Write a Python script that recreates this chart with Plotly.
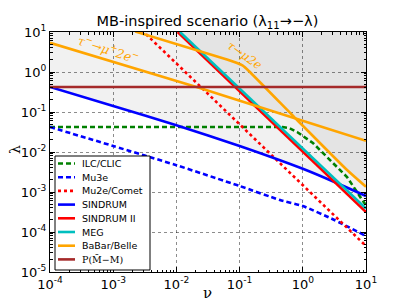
import numpy as np
import plotly.graph_objects as go

# ---------------- data (log10 values) ----------------
ilc_lognu = [-4.0, -0.32, -0.22, -0.09, 0.16, 0.43, 0.70, 0.94, 1.0]
ilc_loglam = [-1.375, -1.375, -1.40, -1.50, -1.775, -2.20, -2.625, -3.20, -3.33]

mu3e_lognu = [-4.0, -3.0, -2.0, -1.0, -0.36, 0.0, 0.5, 1.0]
mu3e_loglam = [-1.375, -1.85, -2.33, -2.85, -3.20, -3.35, -3.70, -4.10]

mu2e_lognu = [-2.55, 1.0]
mu2e_loglam = [1.05, -4.35]

sindrum_lognu = [-4.0, -3.0, -2.0, -1.0, 0.0, 0.5, 1.0]
sindrum_loglam = [-0.375, -0.85, -1.33, -1.85, -2.42, -2.75, -3.10]

sindrum2_lognu = [-1.98, 1.0]
sindrum2_loglam = [1.0, -3.50]

meg_lognu = [-1.943, 1.0]
meg_loglam = [1.0, -3.415]

babar1_lognu = [-4.0, -1.63, -0.04, 1.0]          # tau- -> mu+ 2e-
babar1_loglam = [0.73, -0.40, -1.20, -1.72]

babar2_lognu = [-2.65, -1.2, -1.05, -0.95, -0.85, -0.09, 0.70, 1.0]   # tau -> mu 2e
babar2_loglam = [1.01, 0.315, 0.23, 0.16, 0.02, -1.20, -2.45, -2.87]

pmm_lognu = [-4.0, 1.0]
pmm_loglam = [-0.375, -0.375]

xtick_vals = [-4, -3, -2, -1, 0, 1]
ytick_vals = [-5, -4, -3, -2, -1, 0, 1]

legend_names = ["ILC/CLIC", "Mu3e", "Mu2e/Comet", "SINDRUM", "SINDRUM II", "MEG",
                "BaBar/Belle", "P(M\u0304\u2212M)"]
legend_colors = ["#008000", "#0000ff", "#ff0000", "#0000ff", "#ff0000", "#00bfbf", "#ffa500", "#a52a2a"]
legend_dash = ["5px,3px", "5px,3px", "3px,3px", "solid", "solid", "solid", "solid", "solid"]


def p10(a):
    return [10 ** v for v in a]


def tick_txt(v):
    return "10<sup>%d</sup>" % v


# ---------------- shaded regions derived from the curves ----------------
g = np.linspace(-4, 1, 400)
s_i = np.interp(g, sindrum_lognu, sindrum_loglam)
slope_meg = (meg_loglam[1] - meg_loglam[0]) / (meg_lognu[1] - meg_lognu[0])
m_i = meg_loglam[0] + slope_meg * (g - meg_lognu[0])
b1 = np.interp(g, babar1_lognu, babar1_loglam)
b2 = np.interp(g, babar2_lognu, babar2_loglam)
b2 = np.where(g < babar2_lognu[0], 5, b2)

light_low = np.minimum(np.minimum(s_i, m_i), 1.0)
dark_low = np.minimum(np.maximum(m_i, np.minimum(b1, b2)), 1.0)

fig = go.Figure()

fig.add_trace(go.Scatter(
    x=list(10 ** g) + list(10 ** g[::-1]),
    y=list(10 ** light_low) + [10.0] * len(g),
    fill="toself", fillcolor="rgba(0,0,0,0.055)", line=dict(width=0),
    mode="lines", showlegend=False, hoverinfo="skip"))
fig.add_trace(go.Scatter(
    x=list(10 ** g) + list(10 ** g[::-1]),
    y=list(10 ** dark_low) + [10.0] * len(g),
    fill="toself", fillcolor="rgba(0,0,0,0.05)", line=dict(width=0),
    mode="lines", showlegend=False, hoverinfo="skip"))

W = 2.6
series = [
    (ilc_lognu, ilc_loglam, 0, "linear"),
    (mu3e_lognu, mu3e_loglam, 1, "spline"),
    (mu2e_lognu, mu2e_loglam, 2, "linear"),
    (sindrum_lognu, sindrum_loglam, 3, "spline"),
    (sindrum2_lognu, sindrum2_loglam, 4, "linear"),
    (meg_lognu, meg_loglam, 5, "linear"),
    (babar1_lognu, babar1_loglam, 6, "linear"),
    (babar2_lognu, babar2_loglam, 6, "spline"),
    (pmm_lognu, pmm_loglam, 7, "linear"),
]
for xs, ys, k, shp in series:
    fig.add_trace(go.Scatter(x=p10(xs), y=p10(ys), mode="lines", showlegend=False,
                             name=legend_names[k],
                             line=dict(color=legend_colors[k], width=W, dash=legend_dash[k],
                                       shape=shp, smoothing=0.5 if shp == "spline" else None)))

fig.add_annotation(x=-3.08, y=0.58, xref="x", yref="y", showarrow=False, textangle=18,
                   text="<i>\u03c4<sup>\u2212</sup>\u2192\u03bc<sup>+</sup>2e<sup>\u2212</sup></i>",
                   font=dict(color="#ffa500", size=12.5, family="DejaVu Serif"))
fig.add_annotation(x=-0.93, y=0.42, xref="x", yref="y", showarrow=False, textangle=35,
                   text="<i>\u03c4\u2192\u03bc2e</i>",
                   font=dict(color="#ffa500", size=12, family="DejaVu Serif"))

# ---------------- hand-drawn legend (paper coordinates, page pixels) ----------------
L, R, T, B = 50, 366, 32, 272


def px(xp):
    return (xp - L) / (R - L)


def py(yp):
    return (B - yp) / (B - T)


fig.add_shape(type="rect", xref="paper", yref="paper", x0=px(55), x1=px(150), y0=py(270), y1=py(156),
              line=dict(color="black", width=1), fillcolor="white", layer="above")
for i, nm in enumerate(legend_names):
    yc = 163.5 + 13.7 * i
    fig.add_shape(type="line", xref="paper", yref="paper", x0=px(58), x1=px(75), y0=py(yc), y1=py(yc),
                  line=dict(color=legend_colors[i], width=W, dash=legend_dash[i]), layer="above")
    fam = "DejaVu Serif" if i == 7 else "DejaVu Sans"
    fig.add_annotation(x=px(80), y=py(yc), xref="paper", yref="paper", xanchor="left", yanchor="middle",
                       showarrow=False, text=nm, font=dict(family=fam, size=9.5, color="black"))

# axis titles
fig.add_annotation(x=px(15), y=py(150), xref="paper", yref="paper", showarrow=False, textangle=-90,
                   xanchor="center", yanchor="middle", borderpad=0,
                   text="\u03bb", font=dict(family="DejaVu Serif", size=14, color="black"))
fig.add_annotation(x=px(207), y=py(293), xref="paper", yref="paper", showarrow=False,
                   xanchor="center", yanchor="middle",
                   text="\u03bd", font=dict(family="DejaVu Serif", size=15, color="black"))

axis_common = dict(type="log", showline=True, linecolor="black", linewidth=1, mirror="allticks",
                   ticks="inside", ticklen=5, tickcolor="black",
                   showgrid=True, gridcolor="rgba(0,0,0,0.45)", griddash="dot", gridwidth=1,
                   zeroline=False, automargin=False,
                   minor=dict(ticks="inside", ticklen=2.5, tickcolor="black", dtick="D1", showgrid=False),
                   tickfont=dict(family="DejaVu Sans", size=13, color="black"))

fig.update_xaxes(range=[-4, 1], tickvals=p10(xtick_vals), ticktext=[tick_txt(v) for v in xtick_vals],
                 **axis_common)
fig.update_yaxes(range=[-5, 1], tickvals=p10(ytick_vals), ticktext=[tick_txt(v) for v in ytick_vals],
                 **axis_common)

# the page body has an 8px margin, so the figure margins are offset by 8px
fig.update_layout(
    width=407, height=305,
    margin=dict(l=42, r=49, t=24, b=41),
    paper_bgcolor="white", plot_bgcolor="white",
    title=dict(text="MB-inspired scenario (\u03bb<sub>11</sub>\u2192\u2212\u03bb)", x=0.49, xanchor="center",
               y=0.958, yanchor="middle", font=dict(family="DejaVu Sans", size=14.5, color="black")),
    showlegend=False,
)

fig.write_html("out.html")
